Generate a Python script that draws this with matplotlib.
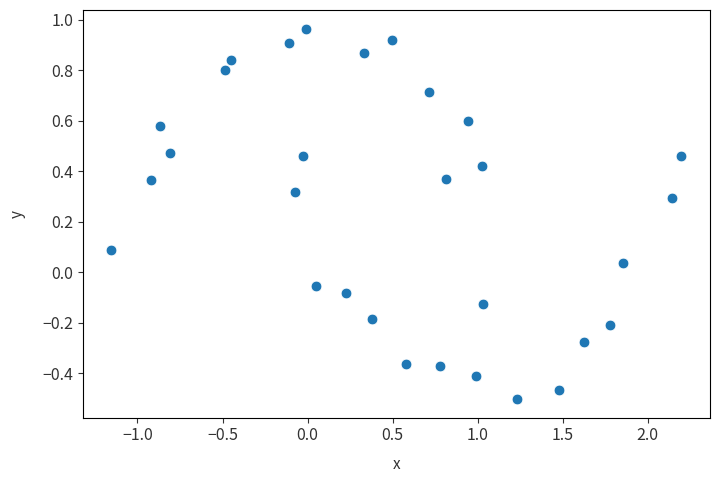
import matplotlib
matplotlib.use("Agg")
import matplotlib.pyplot as plt
import seaborn as sns
import pandas as pd

plt.rcParams['font.family'] = ['Noto Sans CJK JP', 'DejaVu Sans']

# points
x = [-1.154, -0.921, -0.866, -0.811, -0.483, -0.448, -0.107, -0.008,
     -0.029, -0.072, 0.333, 0.497, 0.717, 0.946, 1.026, 0.817,
     2.199, 2.145, 0.049, 0.227, 0.381, 0.578, 0.778, 0.989,
     1.030, 1.230, 1.481, 1.627, 1.781, 1.857]
y = [0.087, 0.367, 0.578, 0.473, 0.802, 0.840, 0.907, 0.966,
     0.459, 0.316, 0.870, 0.921, 0.713, 0.600, 0.422, 0.368,
     0.460, 0.294, -0.053, -0.082, -0.186, -0.363, -0.371, -0.413,
     -0.126, -0.504, -0.467, -0.276, -0.208, 0.037]

df = pd.DataFrame({"x": x, "y": y})

fig = plt.figure(figsize=(7.2, 4.78), dpi=100)
ax = fig.add_axes([0.115, 0.126, 0.871, 0.853])
sns.scatterplot(data=df, x="x", y="y", s=60, ax=ax)
ax.tick_params(labelsize=11.5, colors="#333333")
ax.set_xlabel("x", fontsize=11, color="#333333", labelpad=8)
ax.set_ylabel("y", fontsize=11, color="#333333", labelpad=12)
fig.savefig("out.png")
